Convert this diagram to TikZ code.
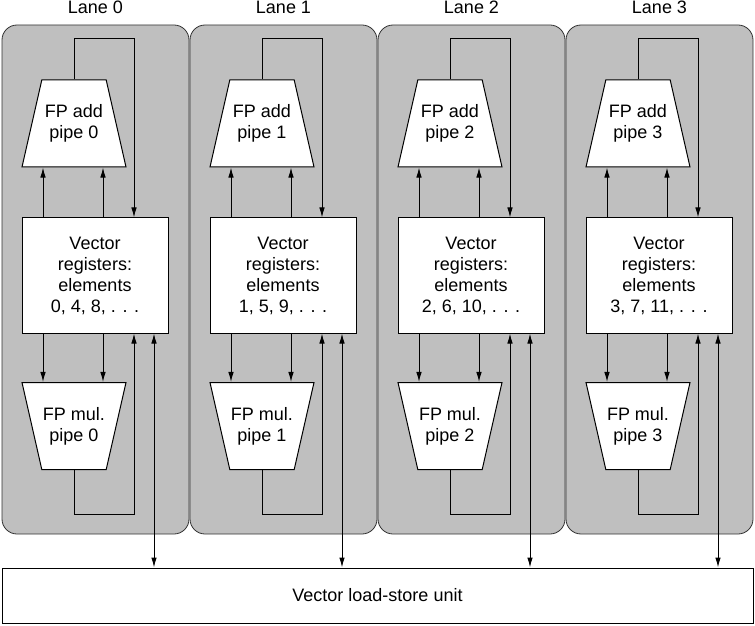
\documentclass[tikz,border=0pt]{standalone}
\usepackage{fontspec}
\setmainfont{Liberation Sans}
\usetikzlibrary{shapes.geometric, arrows.meta}

\tikzset{
  lane/.style = {draw = black!80, fill = black!25, rounded corners = 15pt, line width = 0.8pt},
  pipe/.style = {trapezium, draw, fill = white, align = center, line width = 1pt,
    trapezium left angle = 77, trapezium right angle = 77, trapezium stretches body = true,
    minimum width = 104pt, minimum height = 87pt, inner xsep = 0pt, inner ysep = 24pt},
  mulpipe/.style = {pipe, shape border rotate = 180},
  regbox/.style = {draw, fill = white, align = center, line width = 1pt,
    minimum width = 146pt, minimum height = 115pt},
  storebox/.style = {draw, fill = white, line width = 1pt,
    minimum width = 751pt, minimum height = 55pt},
  heading/.style = {anchor = base, inner sep = 0pt},
  link/.style = {line width = 1pt, -{Latex[length = 10pt, width = 5.5pt]}},
  duplex/.style = {line width = 1pt, {Latex[length = 10pt, width = 5.5pt]}-{Latex[length = 10pt, width = 5.5pt]}}
}

\begin{document}
\begin{tikzpicture}[x = 1pt, y = 1pt, every node/.style = {font = \fontsize{18}{21}\selectfont}]

  \useasboundingbox (0, 0) rectangle (755, 625);

  % Lanes
  \draw[lane] (2, 91) rectangle (189, 600);
  \draw[lane] (190, 91) rectangle (377, 600);
  \draw[lane] (378, 91) rectangle (565, 600);
  \draw[lane] (566, 91) rectangle (753, 600);

  % Headings
  \node[heading] (head0) at (95.5, 611.5) {Lane 0};
  \node[heading] (head1) at (283.5, 611.5) {Lane 1};
  \node[heading] (head2) at (471.5, 611.5) {Lane 2};
  \node[heading] (head3) at (659.5, 611.5) {Lane 3};

  % Add pipes
  \node[pipe] (add0) at (74, 501.5) {FP add\\pipe 0};
  \node[pipe] (add1) at (262, 501.5) {FP add\\pipe 1};
  \node[pipe] (add2) at (450, 501.5) {FP add\\pipe 2};
  \node[pipe] (add3) at (638, 501.5) {FP add\\pipe 3};

  % Register files
  \node[regbox] (regs0) at (95, 349.5) {Vector\\registers:\\elements\\0, 4, 8, . . .};
  \node[regbox] (regs1) at (283, 349.5) {Vector\\registers:\\elements\\1, 5, 9, . . .};
  \node[regbox] (regs2) at (471, 349.5) {Vector\\registers:\\elements\\2, 6, 10, . . .};
  \node[regbox] (regs3) at (659, 349.5) {Vector\\registers:\\elements\\3, 7, 11, . . .};

  % Multiply pipes
  \node[mulpipe] (mul0) at (74, 199) {FP mul.\\pipe 0};
  \node[mulpipe] (mul1) at (262, 199) {FP mul.\\pipe 1};
  \node[mulpipe] (mul2) at (450, 199) {FP mul.\\pipe 2};
  \node[mulpipe] (mul3) at (638, 199) {FP mul.\\pipe 3};

  % Load-store unit
  \node[storebox] (lsu) at (377.5, 29.5) {Vector load-store unit};

  % Lane 0 wiring
  \draw[link] ([xshift = -31pt]add0.south |- regs0.north) -- ([xshift = -31pt]add0.south);
  \draw[link] ([xshift = 29pt]add0.south |- regs0.north) -- ([xshift = 29pt]add0.south);
  \draw[link] (add0.north) -- ++(0, 41) -| ([xshift = 39pt]regs0.north);
  \draw[link] ([xshift = -31pt]mul0.north |- regs0.south) -- ([xshift = -31pt]mul0.north);
  \draw[link] ([xshift = 29pt]mul0.north |- regs0.south) -- ([xshift = 29pt]mul0.north);
  \draw[link] (mul0.south) -- ++(0, -44) -| ([xshift = 39pt]regs0.south);
  \draw[duplex] ([xshift = 59pt]regs0.south) -- ([xshift = 59pt]regs0.south |- lsu.north);

  % Lane 1 wiring
  \draw[link] ([xshift = -31pt]add1.south |- regs1.north) -- ([xshift = -31pt]add1.south);
  \draw[link] ([xshift = 29pt]add1.south |- regs1.north) -- ([xshift = 29pt]add1.south);
  \draw[link] (add1.north) -- ++(0, 41) -| ([xshift = 39pt]regs1.north);
  \draw[link] ([xshift = -31pt]mul1.north |- regs1.south) -- ([xshift = -31pt]mul1.north);
  \draw[link] ([xshift = 29pt]mul1.north |- regs1.south) -- ([xshift = 29pt]mul1.north);
  \draw[link] (mul1.south) -- ++(0, -44) -| ([xshift = 39pt]regs1.south);
  \draw[duplex] ([xshift = 59pt]regs1.south) -- ([xshift = 59pt]regs1.south |- lsu.north);

  % Lane 2 wiring
  \draw[link] ([xshift = -31pt]add2.south |- regs2.north) -- ([xshift = -31pt]add2.south);
  \draw[link] ([xshift = 29pt]add2.south |- regs2.north) -- ([xshift = 29pt]add2.south);
  \draw[link] (add2.north) -- ++(0, 41) -| ([xshift = 39pt]regs2.north);
  \draw[link] ([xshift = -31pt]mul2.north |- regs2.south) -- ([xshift = -31pt]mul2.north);
  \draw[link] ([xshift = 29pt]mul2.north |- regs2.south) -- ([xshift = 29pt]mul2.north);
  \draw[link] (mul2.south) -- ++(0, -44) -| ([xshift = 39pt]regs2.south);
  \draw[duplex] ([xshift = 59pt]regs2.south) -- ([xshift = 59pt]regs2.south |- lsu.north);

  % Lane 3 wiring
  \draw[link] ([xshift = -31pt]add3.south |- regs3.north) -- ([xshift = -31pt]add3.south);
  \draw[link] ([xshift = 29pt]add3.south |- regs3.north) -- ([xshift = 29pt]add3.south);
  \draw[link] (add3.north) -- ++(0, 41) -| ([xshift = 39pt]regs3.north);
  \draw[link] ([xshift = -31pt]mul3.north |- regs3.south) -- ([xshift = -31pt]mul3.north);
  \draw[link] ([xshift = 29pt]mul3.north |- regs3.south) -- ([xshift = 29pt]mul3.north);
  \draw[link] (mul3.south) -- ++(0, -44) -| ([xshift = 39pt]regs3.south);
  \draw[duplex] ([xshift = 59pt]regs3.south) -- ([xshift = 59pt]regs3.south |- lsu.north);

\end{tikzpicture}
\end{document}
